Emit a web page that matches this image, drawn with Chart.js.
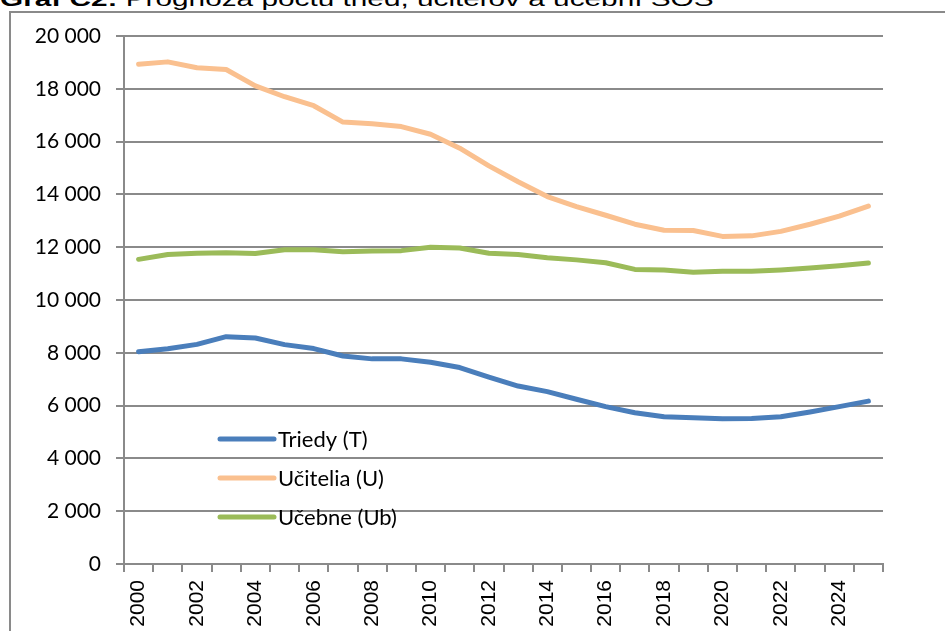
<!DOCTYPE html>
<html>
<head>
<meta charset="utf-8">
<script src="https://cdn.jsdelivr.net/npm/chart.js@4.4.0/dist/chart.umd.min.js"></script>
<style>
html, body { margin: 0; padding: 0; background: #fff; overflow: hidden; }
#wrap { position: relative; width: 945px; height: 631px; overflow: hidden; }
#title { position: absolute; left: 0; top: -11px; font: 20px "Liberation Sans", Arial, sans-serif; line-height: 20px; white-space: nowrap; transform-origin: 0 0; color: #000; }
#frame { position: absolute; left: 9px; top: 11px; width: 1000px; height: 700px; border-left: 2px solid #8a8a8a; border-top: 2px solid #8a8a8a; }
canvas { position: absolute; left: 0; top: 0; }
</style>
</head>
<body>
<div id="wrap">
  <div id="title"><b>Graf C2:</b> Prognóza počtu tried, učiteľov a učební SOŠ</div>
  <div id="frame"></div>
  <canvas id="chart" width="945" height="631"></canvas>
</div>
<script>
// categories
const years = ['2000', '2001', '2002', '2003', '2004', '2005', '2006', '2007', '2008', '2009',
    '2010', '2011', '2012', '2013', '2014', '2015', '2016', '2017', '2018', '2019',
    '2020', '2021', '2022', '2023', '2024', '2025'];

// series
const triedy = [8040, 8150, 8320, 8610, 8560, 8310, 8160, 7880, 7770, 7770,
    7640, 7440, 7080, 6740, 6530, 6240, 5960, 5730, 5580, 5540,
    5500, 5510, 5580, 5760, 5960, 6170];
const ucitelia = [18930, 19020, 18800, 18730, 18110, 17700, 17360, 16740, 16680, 16570,
    16280, 15750, 15080, 14480, 13920, 13540, 13210, 12870, 12640, 12630,
    12410, 12430, 12600, 12870, 13180, 13560];
const ucebne = [11540, 11720, 11770, 11790, 11760, 11900, 11900, 11830, 11860, 11870,
    12000, 11970, 11770, 11720, 11600, 11520, 11410, 11160, 11140, 11050,
    11090, 11090, 11140, 11210, 11300, 11400];

// y axis ticks
const yMin = 0;
const yMax = 20000;
const yStep = 2000;

// stretch the title to the width it has in the original
const title = document.getElementById('title');
title.style.transform = 'scaleX(' + (713 / title.offsetWidth) + ')';

const fmt = v => String(v).replace(/\B(?=(\d{3})+(?!\d))/g, ' ');

// legend drawn inside the plot area
const innerLegend = {
    id: 'innerLegend',
    afterDatasetsDraw(chart, args, opts) {
        const ctx = chart.ctx;
        ctx.save();
        chart.data.datasets.forEach((ds, i) => {
            const y = opts.y + i * opts.gap;
            ctx.strokeStyle = ds.borderColor;
            ctx.lineWidth = 5;
            ctx.lineCap = 'round';
            ctx.beginPath();
            ctx.moveTo(opts.x, y);
            ctx.lineTo(opts.x + 54, y);
            ctx.stroke();
            ctx.fillStyle = '#000';
            ctx.font = '22px Lato, "Open Sans", sans-serif';
            ctx.textBaseline = 'middle';
            ctx.fillText(ds.label, opts.x + 58, y + 1);
        });
        ctx.restore();
    }
};

const ctx = document.getElementById('chart').getContext('2d');
const chart = new Chart(ctx, {
    type: 'line',
    data: {
        labels: years,
        datasets: [{
            label: 'Triedy (T)',
            data: triedy,
            borderColor: '#4a7ebb',
            borderWidth: 5,
            borderCapStyle: 'round',
            borderJoinStyle: 'round',
            pointRadius: 0,
            tension: 0
        }, {
            label: 'Učitelia (U)',
            data: ucitelia,
            borderColor: '#fac08f',
            borderWidth: 5,
            borderCapStyle: 'round',
            borderJoinStyle: 'round',
            pointRadius: 0,
            tension: 0
        }, {
            label: 'Učebne (Ub)',
            data: ucebne,
            borderColor: '#9bbb59',
            borderWidth: 5,
            borderCapStyle: 'round',
            borderJoinStyle: 'round',
            pointRadius: 0,
            tension: 0
        }]
    },
    options: {
        responsive: false,
        animation: false,
        layout: { padding: { top: 36, right: 62, left: 0, bottom: 0 } },
        plugins: {
            legend: { display: false },
            tooltip: { enabled: false },
            innerLegend: { x: 220, y: 439, gap: 39 }
        },
        scales: {
            x: {
                offset: true,
                grid: { offset: true, drawOnChartArea: false, drawTicks: true, tickLength: 8, color: '#8a8a8a', lineWidth: 2 },
                border: { color: '#8a8a8a', width: 2 },
                ticks: {
                    autoSkip: false,
                    minRotation: 90,
                    maxRotation: 90,
                    padding: 8,
                    color: '#000',
                    font: { family: '"Liberation Sans", Arial, sans-serif', size: 21 },
                    callback: (v, i) => (i % 2 === 0 ? years[i] : '')
                },
                afterFit(s) { s.height = 67; }
            },
            y: {
                min: yMin,
                max: yMax,
                grid: { color: '#8a8a8a', lineWidth: 2, tickLength: 8 },
                border: { color: '#8a8a8a', width: 2 },
                ticks: {
                    stepSize: yStep,
                    padding: 15,
                    color: '#000',
                    font: { family: 'Lato, "Open Sans", sans-serif', size: 21 },
                    callback: v => fmt(v)
                },
                afterFit(s) { s.width = 124; }
            }
        }
    },
    plugins: [innerLegend]
});
</script>
</body>
</html>
